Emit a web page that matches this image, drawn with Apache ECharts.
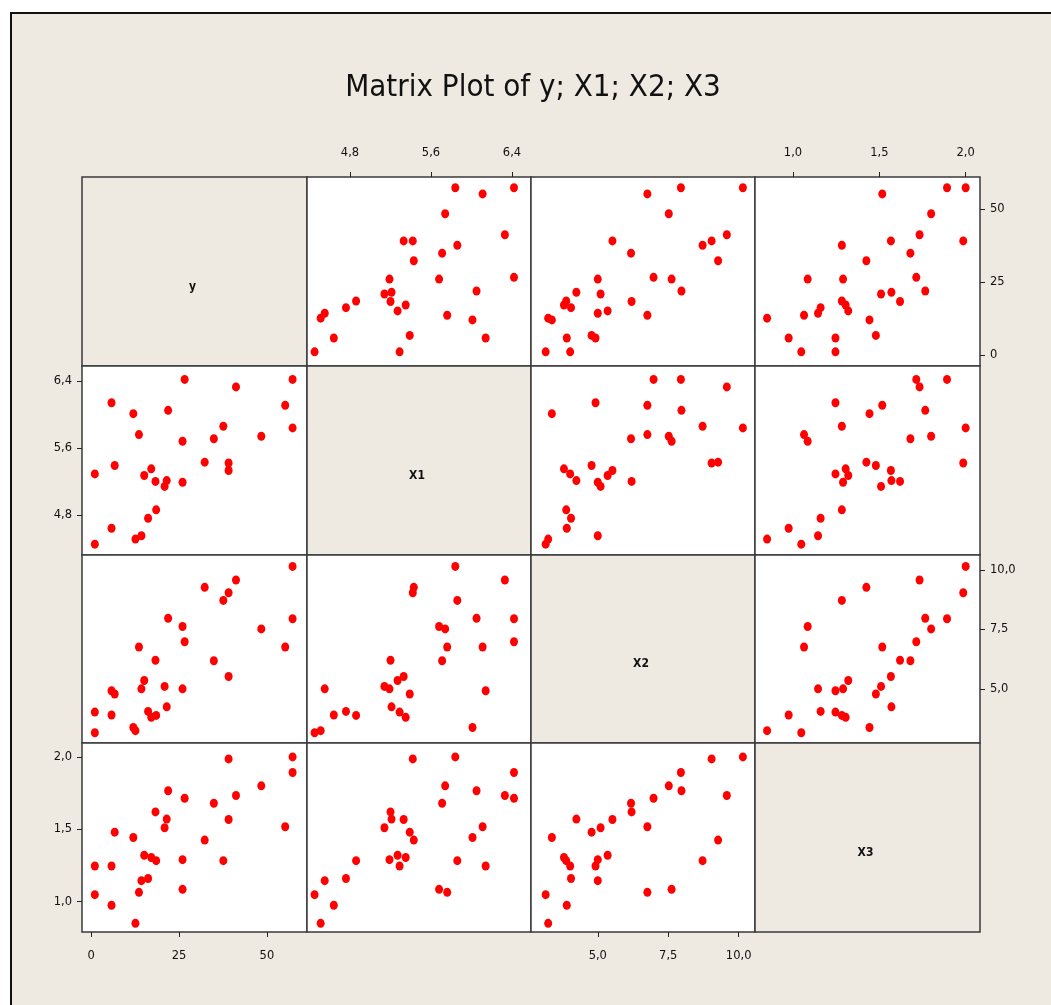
<!DOCTYPE html>
<html><head><meta charset="utf-8">
<script src="https://cdn.jsdelivr.net/npm/echarts@6/dist/echarts.min.js"></script>
<style>
html,body{margin:0;padding:0;background:#fff;}
#frame{position:absolute;left:10px;top:12px;width:1041px;height:993px;background:#EEEAE1;border-top:2px solid #111;border-left:2px solid #111;box-sizing:border-box;}
#chart{position:absolute;left:0;top:0;width:1051px;height:1005px;}
</style></head>
<body>
<div id="frame"></div>
<div id="chart"></div>
<script>
const yVals  = [1.05, 1.05, 5.8, 5.8, 6.7, 12.0, 12.6, 13.6, 14.3, 15.1, 16.2, 17.1, 18.3, 18.5, 20.9, 21.5, 21.9, 26.0, 26.0, 26.6, 32.3, 34.9, 37.6, 39.1, 39.1, 41.2, 48.4, 55.2, 57.3, 57.3];
const x1Vals = [5.29, 4.45, 6.14, 4.64, 5.39, 6.01, 4.51, 5.76, 4.55, 5.27, 4.76, 5.35, 5.2, 4.86, 5.14, 5.21, 6.05, 5.68, 5.19, 6.42, 5.43, 5.71, 5.86, 5.42, 5.33, 6.33, 5.74, 6.11, 5.84, 6.42];
const x2Vals = [4.02, 3.15, 4.92, 3.9, 4.78, 3.37, 3.24, 6.76, 5.0, 5.35, 4.05, 3.8, 6.2, 3.88, 5.1, 4.24, 7.97, 7.62, 5.0, 6.98, 9.27, 6.18, 8.72, 9.04, 5.52, 9.58, 7.52, 6.76, 10.15, 7.95];
const x3Vals = [1.246, 1.048, 1.246, 0.975, 1.48, 1.443, 0.85, 1.064, 1.145, 1.32, 1.16, 1.305, 1.62, 1.283, 1.51, 1.57, 1.766, 1.085, 1.29, 1.714, 1.425, 1.68, 1.283, 1.986, 1.567, 1.733, 1.80, 1.517, 2.0, 1.892];
const varNames = ['y', 'X1', 'X2', 'X3'];
const tickY  = [0, 25, 50];
const tickX1 = [4.8, 5.6, 6.4];
const tickX2 = [5.0, 7.5, 10.0];
const tickX3 = [1.0, 1.5, 2.0];

const vals = [yVals, x1Vals, x2Vals, x3Vals];
const ticks = [tickY, tickX1, tickX2, tickX3];
const decimals = [0, 1, 1, 1];
const xRange = [[-2.6, 61.4], [4.375, 6.588], [2.63, 10.58], [0.78, 2.083]];
const yRange = [[-3.8, 61.0], [4.32, 6.58], [2.72, 10.63], [0.79, 2.096]];

const colEdges = [82, 307, 531, 755, 980];
const rowEdges = [177, 366, 555, 743, 932];
const BEIGE = '#EEEAE1';
const FONT = "'Liberation Sans Narrow','DejaVu Sans Condensed','Liberation Sans',sans-serif";
const TICKFONT = "'DejaVu Sans',sans-serif";

function fmt(k){ return v => (decimals[k] ? Number(v).toFixed(1).replace('.', ',') : String(Math.round(v))); }

const grids = [], xAxes = [], yAxes = [], series = [], graphics = [];
let gi = 0;
for (let r = 0; r < 4; r++) {
  for (let c = 0; c < 4; c++) {
    const L = colEdges[c], T = rowEdges[r], W = colEdges[c+1]-colEdges[c], H = rowEdges[r+1]-rowEdges[r];
    grids.push({left: L, top: T, width: W, height: H, show: true,
      backgroundColor: r === c ? BEIGE : '#fff', borderColor: '#3a3a3a', borderWidth: 1.5});
    const showX = (r === 0 && (c === 1 || c === 3)) || (r === 3 && (c === 0 || c === 2));
    const showY = (c === 3 && (r === 0 || r === 2)) || (c === 0 && (r === 1 || r === 3));
    xAxes.push({type: 'value', gridIndex: gi, min: xRange[c][0], max: xRange[c][1],
      position: r === 0 ? 'top' : 'bottom',
      axisLine: {show: false, onZero: false}, splitLine: {show: false},
      axisTick: {show: showX, length: 5, lineStyle: {color: '#222', width: 1}, customValues: ticks[c]},
      axisLabel: {show: showX, customValues: ticks[c], formatter: fmt(c), fontSize: 11.5, color: '#111', fontFamily: TICKFONT, margin: 18}
    });
    yAxes.push({type: 'value', gridIndex: gi, min: yRange[r][0], max: yRange[r][1],
      position: c === 3 ? 'right' : 'left',
      axisLine: {show: false, onZero: false}, splitLine: {show: false},
      axisTick: {show: showY, length: 5, lineStyle: {color: '#222', width: 1}, customValues: ticks[r]},
      axisLabel: {show: showY, customValues: ticks[r], formatter: fmt(r), fontSize: 11.5, color: '#111', fontFamily: TICKFONT, margin: 10}
    });
    if (r !== c) {
      series.push({type: 'scatter', xAxisIndex: gi, yAxisIndex: gi, symbol: 'circle', symbolSize: [8, 9],
        itemStyle: {color: '#ff0000', opacity: 1}, silent: true,
        data: vals[c].map((v, i) => [v, vals[r][i]])});
    } else {
      graphics.push({type: 'text', x: L + W/2 - 2, y: T + H/2 + 15,
        style: {text: varNames[r], font: "bold 12px 'DejaVu Sans Condensed','DejaVu Sans',sans-serif", fill: '#111', textAlign: 'center', textVerticalAlign: 'middle'}});
    }
    gi++;
  }
}
graphics.push({type: 'text', x: 533, y: 88,
  style: {text: 'Matrix Plot of y; X1; X2; X3', font: "31px " + FONT, fill: '#111', textAlign: 'center', textVerticalAlign: 'middle'}});

const chart = echarts.init(document.getElementById('chart'), null, {renderer: 'canvas'});
chart.setOption({
  animation: false,
  backgroundColor: 'transparent',
  grid: grids, xAxis: xAxes, yAxis: yAxes, series: series, graphic: graphics
});
</script>
</body></html>
